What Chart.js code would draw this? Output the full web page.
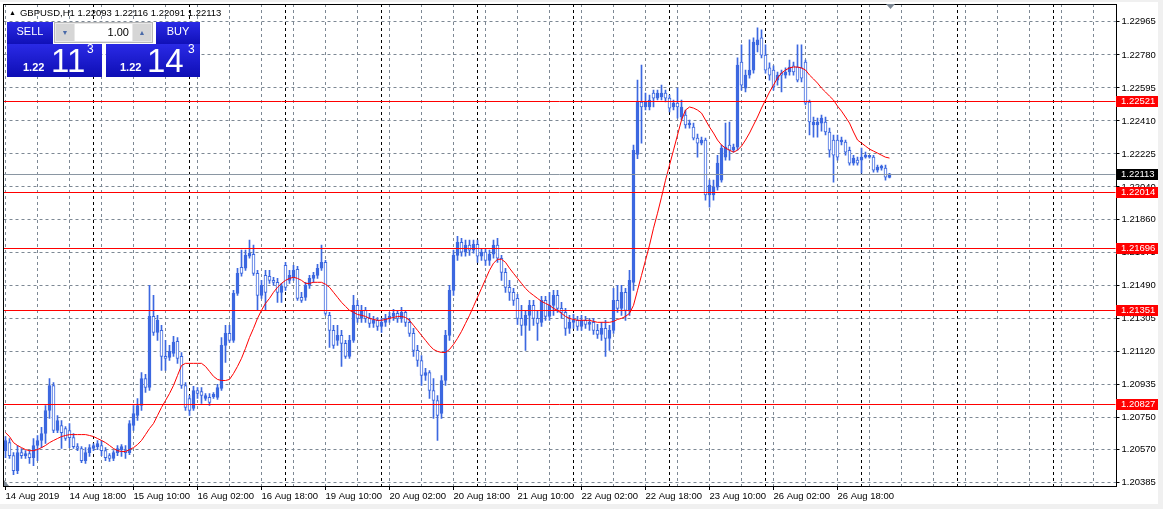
<!DOCTYPE html>
<html><head><meta charset="utf-8">
<script src="https://cdn.jsdelivr.net/npm/chart.js@4.4.1/dist/chart.umd.min.js"></script>
<style>
html,body{margin:0;padding:0;background:#fff;overflow:hidden;}
#wrap{position:relative;width:1163px;height:509px;font-family:'Liberation Sans',Arial,sans-serif;}
canvas{display:block;position:absolute;left:0;top:0;}
.ov{position:absolute;white-space:nowrap;}
#hdr{left:9px;top:7px;font-size:9.5px;color:#000;}
#hdr .tri{font-size:7px;position:relative;top:-1px;margin-right:4px;}
.blue{position:absolute;background:linear-gradient(#2a2ae6,#0e0eb4);}
.lbl{position:absolute;color:#fff;font-size:11px;text-align:center;}
.lotbox{position:absolute;left:54px;top:22px;width:99px;height:21px;background:#e8e8e8;border:1px solid #b8b8b8;box-sizing:border-box;}
.btn{position:absolute;top:1px;width:18px;height:17px;background:#d6d6d6;color:#4a6aa8;font-size:7px;text-align:center;line-height:17px;}
.field{position:absolute;left:20px;top:1px;width:57px;height:17px;background:#fff;font-size:11px;line-height:17px;text-align:right;padding-right:3px;box-sizing:border-box;}
.sm{position:absolute;color:#fff;font-size:11px;font-weight:bold;}
.big{position:absolute;color:#fff;font-size:33px;line-height:33px;}
.sup{position:absolute;color:#fff;font-size:12px;}
</style></head><body>
<div id="wrap">
<canvas id="c" width="1163" height="509"></canvas>
<div id="hdr" class="ov"><span class="tri">&#9650;</span><span id="hdrText"></span></div>
<div class="blue" style="left:7px;top:22px;width:46px;height:24px;"></div>
<div class="blue" style="left:7px;top:44px;width:95px;height:33px;"></div>
<div class="lbl" style="left:7px;top:25px;width:46px;">SELL</div>
<div class="blue" style="left:156px;top:22px;width:44px;height:24px;"></div>
<div class="blue" style="left:106px;top:44px;width:94px;height:33px;"></div>
<div class="lbl" style="left:156px;top:25px;width:44px;">BUY</div>
<div class="lotbox"><div class="btn" style="left:1px;">&#9660;</div><div class="field" id="lot"></div><div class="btn" style="left:78px;">&#9650;</div></div>
<div class="sm" style="left:23px;top:61px;" id="sellPre"></div>
<div class="big" style="left:51px;top:44px;" id="sellBig"></div>
<div class="sup" style="left:87px;top:42px;" id="sellSup"></div>
<div class="sm" style="left:120px;top:61px;" id="buyPre"></div>
<div class="big" style="left:147px;top:44px;" id="buyBig"></div>
<div class="sup" style="left:188px;top:42px;" id="buySup"></div>
</div>
<script>
// ---------- data ----------
const symbolTitle = 'GBPUSD,H1';
const lastBar = [1.22093, 1.22116, 1.22091, 1.22113];
const lotSize = '1.00';
const sellQuote = ['1.22', '11', '3'];
const buyQuote = ['1.22', '14', '3'];

const tradingDays = ['14 Aug','15 Aug','16 Aug','19 Aug','20 Aug','21 Aug','22 Aug','23 Aug','26 Aug','27 Aug','28 Aug','29 Aug'];
const firstYear = '2019';
const firstHour = 2;
const slotCount = 278;

const open = [
1.20563,1.20608,1.20535,1.20451,1.20552,1.20535,1.20547,1.20524,1.20592,1.20620,
1.20659,1.20788,1.20928,1.20676,1.20704,1.20687,1.20676,1.20636,1.20586,1.20575,
1.20507,1.20552,1.20575,1.20586,1.20592,1.20563,1.20535,1.20519,1.20552,1.20569,
1.20563,1.20552,1.20704,1.20760,1.20816,1.20967,1.20917,1.21315,1.21225,1.21237,
1.21091,1.21085,1.21108,1.21175,1.21091,1.20928,1.20855,1.20799,1.20900,1.20894,
1.20855,1.20861,1.20866,1.20861,1.20911,1.21153,1.21220,1.21181,1.21444,1.21590,
1.21585,1.21652,1.21663,1.21556,1.21433,1.21545,1.21540,1.21517,1.21506,1.21450,
1.21601,1.21517,1.21534,1.21579,1.21422,1.21422,1.21489,1.21528,1.21545,1.21585,
1.21618,1.21321,1.21237,1.21181,1.21209,1.21164,1.21091,1.21181,1.21377,1.21304,
1.21349,1.21304,1.21276,1.21293,1.21259,1.21282,1.21304,1.21315,1.21332,1.21304,
1.21338,1.21282,1.21220,1.21125,1.21068,1.20984,1.21001,1.20900,1.20844,1.20771,
1.20956,1.21209,1.21461,1.21657,1.21730,1.21675,1.21714,1.21686,1.21719,1.21652,
1.21675,1.21629,1.21663,1.21714,1.21641,1.21562,1.21478,1.21450,1.21416,1.21304,
1.21265,1.21321,1.21377,1.21304,1.21282,1.21405,1.21315,1.21377,1.21433,1.21360,
1.21338,1.21248,1.21282,1.21293,1.21259,1.21293,1.21270,1.21282,1.21237,1.21214,
1.21248,1.21192,1.21237,1.21405,1.21360,1.21450,1.21349,1.21506,1.22222,1.22516,
1.22488,1.22488,1.22566,1.22538,1.22544,1.22566,1.22538,1.22488,1.22510,1.22432,
1.22443,1.22387,1.22376,1.22314,1.22286,1.22303,1.21995,1.21995,1.22039,1.22078,
1.22207,1.22275,1.22246,1.22263,1.22740,1.22594,1.22667,1.22695,1.22836,1.22875,
1.22779,1.22707,1.22695,1.22639,1.22678,1.22667,1.22684,1.22718,1.22712,1.22707,
1.22740,1.22516,1.22387,1.22387,1.22398,1.22404,1.22348,1.22303,1.22303,1.22292,
1.22292,1.22246,1.22174,1.22190,1.22190,1.22207,1.22207,1.22207,1.22134,1.22146,
1.22146,1.22093];
const high = [
1.20642,1.20631,1.20552,1.20592,1.20575,1.20563,1.20563,1.20631,1.20648,1.20693,
1.20816,1.20967,1.20945,1.20760,1.20732,1.20698,1.20715,1.20659,1.20603,1.20586,
1.20580,1.20597,1.20603,1.20620,1.20620,1.20580,1.20547,1.20563,1.20592,1.20597,
1.20592,1.20732,1.20816,1.20855,1.21001,1.20990,1.21489,1.21433,1.21321,1.21265,
1.21181,1.21153,1.21203,1.21197,1.21113,1.20945,1.20872,1.20923,1.20917,1.20917,
1.20883,1.20883,1.20889,1.20934,1.21197,1.21265,1.21265,1.21461,1.21585,1.21686,
1.21686,1.21742,1.21714,1.21573,1.21517,1.21573,1.21573,1.21534,1.21528,1.21500,
1.21618,1.21573,1.21601,1.21596,1.21450,1.21506,1.21545,1.21562,1.21607,1.21714,
1.21629,1.21338,1.21265,1.21265,1.21237,1.21181,1.21209,1.21433,1.21405,1.21377,
1.21366,1.21332,1.21315,1.21309,1.21304,1.21326,1.21338,1.21355,1.21349,1.21366,
1.21349,1.21304,1.21248,1.21153,1.21096,1.21024,1.21012,1.20967,1.20872,1.20984,
1.21237,1.21489,1.21686,1.21764,1.21753,1.21742,1.21742,1.21742,1.21742,1.21697,
1.21697,1.21686,1.21742,1.21753,1.21657,1.21585,1.21517,1.21472,1.21439,1.21377,
1.21349,1.21405,1.21405,1.21349,1.21427,1.21427,1.21450,1.21461,1.21461,1.21394,
1.21360,1.21321,1.21326,1.21315,1.21321,1.21315,1.21304,1.21304,1.21270,1.21282,
1.21293,1.21265,1.21472,1.21489,1.21489,1.21472,1.21573,1.22275,1.22639,1.22723,
1.22566,1.22555,1.22583,1.22583,1.22611,1.22583,1.22555,1.22527,1.22594,1.22527,
1.22471,1.22415,1.22398,1.22336,1.22319,1.22314,1.22079,1.22078,1.22218,1.22275,
1.22398,1.22404,1.22280,1.22763,1.22836,1.22695,1.22864,1.22875,1.22931,1.22920,
1.22836,1.22735,1.22718,1.22684,1.22695,1.22707,1.22751,1.22740,1.22836,1.22836,
1.22751,1.22527,1.22432,1.22426,1.22443,1.22432,1.22370,1.22331,1.22331,1.22319,
1.22303,1.22263,1.22218,1.22207,1.22258,1.22235,1.22218,1.22218,1.22162,1.22162,
1.22162,1.22116];
const low = [
1.20524,1.20519,1.20429,1.20434,1.20519,1.20519,1.20491,1.20479,1.20507,1.20580,
1.20603,1.20743,1.20664,1.20664,1.20575,1.20620,1.20580,1.20575,1.20563,1.20496,
1.20491,1.20530,1.20563,1.20569,1.20535,1.20507,1.20502,1.20507,1.20535,1.20530,
1.20519,1.20541,1.20676,1.20732,1.20788,1.20889,1.20900,1.21209,1.21181,1.21012,
1.21012,1.21068,1.21091,1.21052,1.20911,1.20788,1.20760,1.20788,1.20855,1.20827,
1.20844,1.20816,1.20855,1.20850,1.20900,1.21057,1.21169,1.21169,1.21433,1.21540,
1.21573,1.21641,1.21545,1.21349,1.21416,1.21349,1.21500,1.21489,1.21394,1.21394,
1.21461,1.21500,1.21517,1.21405,1.21394,1.21405,1.21472,1.21506,1.21528,1.21573,
1.21321,1.21141,1.21136,1.21153,1.21035,1.21080,1.21080,1.21169,1.21282,1.21282,
1.21282,1.21254,1.21254,1.21237,1.21225,1.21259,1.21282,1.21293,1.21282,1.21282,
1.21259,1.21203,1.21091,1.21035,1.20928,1.20956,1.20855,1.20743,1.20620,1.20743,
1.20928,1.21181,1.21433,1.21629,1.21652,1.21652,1.21657,1.21669,1.21618,1.21629,
1.21601,1.21601,1.21641,1.21618,1.21517,1.21450,1.21405,1.21377,1.21270,1.21209,
1.21125,1.21237,1.21265,1.21181,1.21259,1.21293,1.21293,1.21321,1.21338,1.21304,
1.21209,1.21220,1.21248,1.21237,1.21237,1.21248,1.21237,1.21214,1.21192,1.21181,
1.21091,1.21125,1.21220,1.21338,1.21321,1.21293,1.21321,1.21461,1.22199,1.22286,
1.22471,1.22471,1.22488,1.22527,1.22527,1.22516,1.22460,1.22471,1.22426,1.22415,
1.22370,1.22370,1.22303,1.22207,1.22275,1.21966,1.21927,1.21966,1.22022,1.22067,
1.22190,1.22190,1.22235,1.22246,1.22583,1.22572,1.22650,1.22678,1.22796,1.22763,
1.22678,1.22639,1.22583,1.22611,1.22572,1.22650,1.22667,1.22667,1.22628,1.22628,
1.22499,1.22331,1.22319,1.22319,1.22353,1.22331,1.22207,1.22067,1.22190,1.22275,
1.22218,1.22162,1.22162,1.22162,1.22117,1.22202,1.22202,1.22123,1.22123,1.22134,
1.22078,1.22091];
const close = [
1.20620,1.20535,1.20451,1.20552,1.20535,1.20547,1.20524,1.20592,1.20620,1.20659,
1.20788,1.20928,1.20676,1.20732,1.20664,1.20631,1.20636,1.20586,1.20575,1.20507,
1.20552,1.20580,1.20592,1.20603,1.20563,1.20524,1.20519,1.20552,1.20575,1.20586,
1.20552,1.20715,1.20771,1.20816,1.20967,1.20917,1.21315,1.21225,1.21293,1.21091,
1.21080,1.21119,1.21171,1.21080,1.20928,1.20805,1.20788,1.20900,1.20883,1.20872,
1.20872,1.20833,1.20878,1.20917,1.21153,1.21220,1.21181,1.21444,1.21556,1.21556,
1.21657,1.21669,1.21556,1.21433,1.21489,1.21450,1.21517,1.21506,1.21450,1.21484,
1.21478,1.21545,1.21573,1.21416,1.21405,1.21489,1.21528,1.21545,1.21585,1.21618,
1.21332,1.21237,1.21153,1.21209,1.21164,1.21091,1.21181,1.21377,1.21304,1.21349,
1.21304,1.21276,1.21293,1.21259,1.21282,1.21304,1.21315,1.21332,1.21304,1.21338,
1.21282,1.21220,1.21125,1.21068,1.20984,1.21001,1.20900,1.20844,1.20760,1.20956,
1.21209,1.21461,1.21657,1.21730,1.21675,1.21714,1.21686,1.21719,1.21652,1.21675,
1.21629,1.21663,1.21714,1.21641,1.21562,1.21478,1.21450,1.21405,1.21304,1.21265,
1.21321,1.21377,1.21304,1.21276,1.21405,1.21315,1.21377,1.21433,1.21360,1.21338,
1.21248,1.21282,1.21293,1.21259,1.21293,1.21270,1.21282,1.21237,1.21214,1.21248,
1.21192,1.21237,1.21405,1.21360,1.21450,1.21349,1.21517,1.22246,1.22516,1.22488,
1.22516,1.22527,1.22538,1.22566,1.22566,1.22538,1.22482,1.22510,1.22488,1.22488,
1.22387,1.22398,1.22314,1.22286,1.22303,1.21995,1.22050,1.22039,1.22174,1.22258,
1.22263,1.22246,1.22263,1.22723,1.22611,1.22667,1.22695,1.22852,1.22864,1.22779,
1.22695,1.22667,1.22600,1.22667,1.22667,1.22684,1.22712,1.22684,1.22639,1.22650,
1.22510,1.22404,1.22404,1.22404,1.22426,1.22348,1.22246,1.22218,1.22207,1.22303,
1.22235,1.22174,1.22202,1.22174,1.22207,1.22218,1.22218,1.22134,1.22151,1.22157,
1.22095,1.22113];
const movingAverage = [
1.20664,1.20642,1.20608,1.20592,1.20580,1.20569,1.20563,1.20563,1.20569,1.20580,
1.20592,1.20608,1.20620,1.20631,1.20642,1.20648,1.20653,1.20653,1.20653,1.20653,
1.20653,1.20648,1.20642,1.20631,1.20620,1.20608,1.20592,1.20575,1.20563,1.20558,
1.20558,1.20569,1.20580,1.20597,1.20620,1.20653,1.20687,1.20715,1.20760,1.20805,
1.20844,1.20883,1.20928,1.20984,1.21040,1.21052,1.21052,1.21052,1.21052,1.21052,
1.21035,1.21007,1.20979,1.20962,1.20956,1.20956,1.20962,1.20995,1.21035,1.21080,
1.21136,1.21197,1.21248,1.21304,1.21349,1.21388,1.21416,1.21450,1.21478,1.21500,
1.21517,1.21528,1.21534,1.21528,1.21517,1.21500,1.21500,1.21506,1.21506,1.21506,
1.21495,1.21478,1.21450,1.21422,1.21394,1.21371,1.21349,1.21338,1.21326,1.21321,
1.21315,1.21304,1.21298,1.21293,1.21293,1.21298,1.21304,1.21309,1.21315,1.21315,
1.21309,1.21293,1.21265,1.21237,1.21209,1.21181,1.21153,1.21130,1.21119,1.21113,
1.21113,1.21130,1.21158,1.21192,1.21231,1.21276,1.21321,1.21371,1.21422,1.21472,
1.21523,1.21573,1.21613,1.21635,1.21635,1.21618,1.21585,1.21556,1.21528,1.21500,
1.21472,1.21450,1.21433,1.21416,1.21399,1.21388,1.21377,1.21360,1.21349,1.21332,
1.21315,1.21304,1.21298,1.21293,1.21293,1.21293,1.21293,1.21287,1.21282,1.21282,
1.21282,1.21282,1.21287,1.21298,1.21304,1.21315,1.21332,1.21377,1.21461,1.21545,
1.21629,1.21714,1.21809,1.21893,1.21983,1.22078,1.22162,1.22246,1.22331,1.22415,
1.22471,1.22488,1.22482,1.22471,1.22454,1.22415,1.22376,1.22342,1.22303,1.22275,
1.22258,1.22246,1.22235,1.22246,1.22269,1.22303,1.22342,1.22387,1.22432,1.22482,
1.22527,1.22572,1.22611,1.22650,1.22678,1.22695,1.22707,1.22712,1.22712,1.22707,
1.22695,1.22667,1.22645,1.22622,1.22594,1.22572,1.22549,1.22527,1.22493,1.22465,
1.22432,1.22398,1.22348,1.22303,1.22286,1.22269,1.22252,1.22241,1.22230,1.22218,
1.22207,1.22202];

const yTickValues = [1.20385,1.20570,1.20750,1.20935,1.21120,1.21305,1.21490,1.21675,1.21860,1.22040,1.22225,1.22410,1.22595,1.22780,1.22965];
const levelLines = [1.22521,1.22014,1.21696,1.21351,1.20827];
const bidLevel = 1.22113;
const yMin = 1.20365, yMax = 1.23065;

// ---------- styling ----------
const FONT = "'Liberation Sans', Arial, sans-serif";
const candleBlue = '#3c68e0';
const gridGray = '#7d8894';
const barCount = close.length;
const labelEvery = 16, gridEvery = 8;

// categories
const categories = [];
tradingDays.forEach((d, di) => {
  for (let h = (di === 0 ? firstHour : 0); h < 24 && categories.length < slotCount; h++) {
    categories.push(d + ' ' + String(h).padStart(2, '0') + ':00');
  }
});
const isDayStart = i => categories[i] && categories[i].endsWith(' 00:00');
const tickLabel = i => {
  if (i % labelEvery !== 0 || i >= barCount) return '';
  return i === 0 ? tradingDays[0] + ' ' + firstYear : categories[i];
};

// overlay texts
document.getElementById('hdrText').textContent = symbolTitle + ' ' + lastBar.map(v => v.toFixed(5)).join(' ');
document.getElementById('lot').textContent = lotSize;
document.getElementById('sellPre').textContent = sellQuote[0];
document.getElementById('sellBig').textContent = sellQuote[1];
document.getElementById('sellSup').textContent = sellQuote[2];
document.getElementById('buyPre').textContent = buyQuote[0];
document.getElementById('buyBig').textContent = buyQuote[1];
document.getElementById('buySup').textContent = buyQuote[2];

const zeroPad = s => { s.paddingTop = 0; s.paddingBottom = 0; s.paddingLeft = 0; s.paddingRight = 0; };

const decor = {
  id: 'decor',
  beforeDraw(chart) {
    const c = chart.ctx;
    c.save();
    c.fillStyle = '#fff'; c.fillRect(0, 0, chart.width, chart.height);
    c.fillStyle = '#f0f0f0';
    c.fillRect(0, 504, chart.width, 5);
    c.fillRect(1158, 0, 5, chart.height);
    c.fillRect(0, 0, chart.width, 2);
    c.restore();
  },
  afterDatasetsDraw(chart) {
    const c = chart.ctx, a = chart.chartArea, y = chart.scales.y;
    c.save();
    c.lineWidth = 1;
    const yb = Math.round(y.getPixelForValue(bidLevel)) + 0.5;
    c.strokeStyle = '#8a96a2';
    c.beginPath(); c.moveTo(a.left, yb); c.lineTo(a.right, yb); c.stroke();
    c.strokeStyle = '#ff0000';
    levelLines.forEach(v => {
      const py = Math.round(y.getPixelForValue(v)) + 0.5;
      c.beginPath(); c.moveTo(a.left, py); c.lineTo(a.right, py); c.stroke();
    });
    c.restore();
  },
  afterDraw(chart) {
    const c = chart.ctx, a = chart.chartArea, y = chart.scales.y;
    c.save();
    c.strokeStyle = '#000'; c.lineWidth = 1;
    c.strokeRect(Math.floor(a.left) + 0.5, Math.floor(a.top) + 0.5, Math.round(a.right) - Math.floor(a.left), Math.round(a.bottom) - Math.floor(a.top));
    // chart shift marker
    c.fillStyle = '#7d8894';
    c.beginPath(); c.moveTo(886, 4); c.lineTo(895, 4); c.lineTo(890.5, 9); c.closePath(); c.fill();
    c.beginPath(); c.moveTo(4, 480); c.lineTo(4, 486); c.lineTo(9, 486); c.closePath(); c.fill();
    // price labels on the axis
    c.font = '9.5px ' + FONT;
    c.textBaseline = 'middle';
    const box = (v, bg) => {
      const py = Math.round(y.getPixelForValue(v));
      c.fillStyle = bg; c.fillRect(1116, py - 5, 42, 11);
      c.fillStyle = '#fff'; c.fillText(v.toFixed(5), 1121, py + 0.5);
    };
    levelLines.forEach(v => box(v, '#ff0000'));
    box(bidLevel, '#000');
    c.restore();
  }
};

new Chart(document.getElementById('c'), {
  type: 'bar',
  data: {
    labels: categories,
    datasets: [
      { type: 'line', label: 'MA', data: movingAverage, borderColor: '#ff0000', borderWidth: 1,
        pointRadius: 0, tension: 0, fill: false, order: 0 },
      { type: 'bar', label: 'Body', data: open.map((o, i) => [o, close[i]]),
        backgroundColor: ctx => (close[ctx.dataIndex] >= open[ctx.dataIndex] ? candleBlue : '#ffffff'),
        borderColor: candleBlue, borderWidth: 1, borderSkipped: false, barThickness: 3,
        minBarLength: 1, grouped: false, order: 1 },
      { type: 'bar', label: 'Wick', data: low.map((l, i) => [l, high[i]]),
        backgroundColor: candleBlue, borderWidth: 0, barThickness: 1, grouped: false, order: 2 }
    ]
  },
  options: {
    responsive: false, animation: false, devicePixelRatio: 1,
    layout: { padding: { left: 3.5, top: 4, right: 0, bottom: 0 } },
    plugins: { legend: { display: false }, tooltip: { enabled: false } },
    scales: {
      x: {
        type: 'category', offset: true,
        grid: {
          offset: false, lineWidth: 1, drawTicks: true, tickLength: 4,
          color: c => isDayStart(c.index) ? '#000000' : (c.index % gridEvery === 0 ? gridGray : 'rgba(0,0,0,0)'),
          tickColor: c => (c.index % labelEvery === 0 && c.index < barCount) ? '#000000' : 'rgba(0,0,0,0)'
        },
        border: { display: false, dash: [3, 3] },
        ticks: {
          autoSkip: false, maxRotation: 0, minRotation: 0, align: 'start', padding: 1,
          color: '#000', font: { family: FONT, size: 9.5 },
          callback: (v, i) => tickLabel(i)
        },
        afterFit: s => { s.height = 23; zeroPad(s); }
      },
      y: {
        position: 'right', min: yMin, max: yMax,
        afterBuildTicks: s => { s.ticks = yTickValues.map(v => ({ value: v })); },
        grid: { color: gridGray, lineWidth: 1, drawTicks: true, tickLength: 4, tickColor: '#000' },
        border: { display: false, dash: [3, 3] },
        ticks: { autoSkip: false, padding: 2, color: '#000', font: { family: FONT, size: 9.5 },
          callback: v => Number(v).toFixed(5) },
        afterFit: s => { s.width = 47.5; zeroPad(s); }
      }
    }
  },
  plugins: [decor]
});
</script>
</body></html>
